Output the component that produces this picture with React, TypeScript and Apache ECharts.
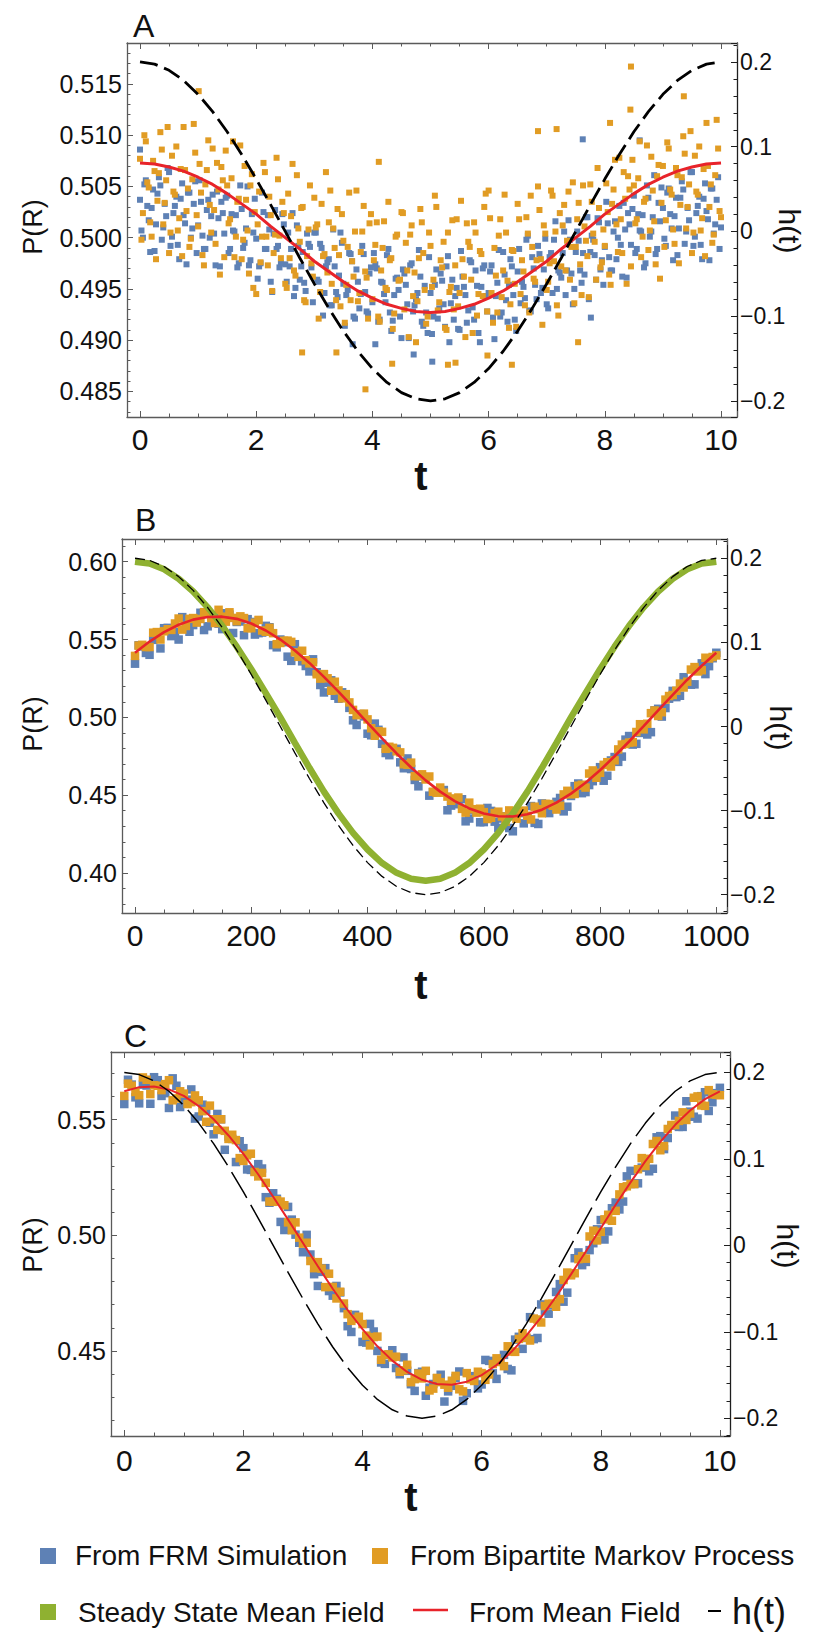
import React, { useEffect, useRef } from 'react';
import * as echarts from 'echarts';

// ---------------- data ----------------
const T10 = [0, 0.25, 0.5, 0.75, 1, 1.25, 1.5, 1.75, 2, 2.25, 2.5, 2.75, 3, 3.25, 3.5, 3.75, 4, 4.25, 4.5, 4.75, 5, 5.25, 5.5, 5.75, 6, 6.25, 6.5, 6.75, 7, 7.25, 7.5, 7.75, 8, 8.25, 8.5, 8.75, 9, 9.25, 9.5, 9.75, 10];
const T1000 = [0, 25, 50, 75, 100, 125, 150, 175, 200, 225, 250, 275, 300, 325, 350, 375, 400, 425, 450, 475, 500, 525, 550, 575, 600, 625, 650, 675, 700, 725, 750, 775, 800, 825, 850, 875, 900, 925, 950, 975, 1000];

const H_CURVE = [0.2, 0.1975, 0.1902, 0.1782, 0.1618, 0.1414, 0.1176, 0.0908, 0.0618, 0.0313, 0, -0.0313, -0.0618, -0.0908, -0.1176, -0.1414, -0.1618, -0.1782, -0.1902, -0.1975, -0.2, -0.1975, -0.1902, -0.1782, -0.1618, -0.1414, -0.1176, -0.0908, -0.0618, -0.0313, 0, 0.0313, 0.0618, 0.0908, 0.1176, 0.1414, 0.1618, 0.1782, 0.1902, 0.1975, 0.2];

// Panel A
const A_MEAN_FIELD = [0.5073, 0.5072, 0.5069, 0.5065, 0.5059, 0.5052, 0.5043, 0.5033, 0.5023, 0.5011, 0.5000, 0.4989, 0.4977, 0.4967, 0.4957, 0.4948, 0.4941, 0.4935, 0.4931, 0.4928, 0.4927, 0.4928, 0.4931, 0.4935, 0.4941, 0.4948, 0.4957, 0.4967, 0.4977, 0.4989, 0.5000, 0.5011, 0.5023, 0.5033, 0.5043, 0.5052, 0.5059, 0.5065, 0.5069, 0.5072, 0.5073];
const A_STEP = 0.05;
const A_FRM = [
  0.5037, 0.5000, 0.5056, 0.5017, 0.5029, 0.4987, 0.5043, 0.5051, 0.5010, 0.5021,
  0.5064, 0.5001, 0.5031, 0.4993, 0.5038, 0.5022, 0.4974, 0.5044, 0.5009, 0.5055,
  0.5012, 0.5035, 0.4989, 0.5027, 0.5000, 0.5042, 0.4973, 0.5019, 0.5035, 0.5004,
  0.5041, 0.4989, 0.5007, 0.5022, 0.4975, 0.5028, 0.4995, 0.5050, 0.4978, 0.5005,
  0.4999, 0.4972, 0.5044, 0.4989, 0.5022, 0.4957, 0.5004, 0.4989, 0.4971, 0.5023,
  0.4974, 0.5005, 0.4989, 0.4943, 0.5012, 0.4959, 0.4986, 0.4948, 0.4994, 0.4971,
  0.5005, 0.4959, 0.4994, 0.4924, 0.4972, 0.4979, 0.4934, 0.4972, 0.4942, 0.5005,
  0.4955, 0.4944, 0.4985, 0.4977, 0.4921, 0.4957, 0.4945, 0.4984, 0.4928, 0.4965,
  0.4937, 0.4974, 0.4918, 0.4957, 0.4945, 0.4983, 0.4927, 0.4919, 0.4960, 0.4949,
  0.4902, 0.4965, 0.4935, 0.4973, 0.4928, 0.4940, 0.4988, 0.4918, 0.4953, 0.4907,
  0.4946, 0.4923, 0.4969, 0.4931, 0.4958, 0.4913, 0.4982, 0.4936, 0.4920, 0.4951,
  0.4910, 0.4962, 0.4944, 0.4929, 0.4976, 0.4920, 0.4953, 0.4898, 0.4970, 0.4943,
  0.4946, 0.4973, 0.4901, 0.4956, 0.4923, 0.4986, 0.4939, 0.4954, 0.4972, 0.4920,
  0.4967, 0.4936, 0.4952, 0.4998, 0.4929, 0.4981, 0.4954, 0.4992, 0.4946, 0.4969,
  0.4935, 0.4981, 0.4946, 0.5016, 0.4968, 0.4961, 0.5006, 0.4968, 0.4998, 0.4935,
  0.4986, 0.4997, 0.4956, 0.4964, 0.5020, 0.4986, 0.4998, 0.4959, 0.5015, 0.4978,
  0.4991, 0.5014, 0.4968, 0.5006, 0.4979, 0.5031, 0.4962, 0.5008, 0.5024, 0.4993,
  0.5041, 0.4989, 0.5007, 0.5022, 0.4975, 0.5039, 0.5006, 0.5061, 0.4989, 0.5016,
  0.5029, 0.4992, 0.5048, 0.5009, 0.5021, 0.4983, 0.5039, 0.5047, 0.5006, 0.5017,
  0.5064, 0.5001, 0.5031, 0.4993, 0.5038, 0.5026, 0.4978, 0.5048, 0.5013, 0.5059,
  0.5010,
];
const A_FRM_MID = [
  0.5007, 0.5052, 0.5031, 0.4986, 0.5047, 0.5013, 0.5059, 0.4998, 0.5033, 0.5068,
  0.4992, 0.5024, 0.5040, 0.4979, 0.5053, 0.5014, 0.5044, 0.5000, 0.5033, 0.4985,
  0.5056, 0.5002, 0.4989, 0.5037, 0.5021, 0.5004, 0.5045, 0.4972, 0.5024, 0.5039,
  0.4985, 0.5023, 0.5006, 0.4971, 0.5051, 0.4990, 0.5009, 0.4973, 0.5023, 0.5038,
  0.4960, 0.4975, 0.5025, 0.4989, 0.5008, 0.4947, 0.5027, 0.4992, 0.4975, 0.5013,
  0.4957, 0.4972, 0.5024, 0.4951, 0.4992, 0.4972, 0.4956, 0.5004, 0.4991, 0.4937,
  0.5005, 0.4957, 0.4990, 0.4946, 0.4976, 0.4934, 0.5008, 0.4947, 0.4963, 0.4995,
  0.4914, 0.4949, 0.4984, 0.4923, 0.4969, 0.4931, 0.4992, 0.4947, 0.4926, 0.4971,
  0.4985, 0.4970, 0.4920, 0.4956, 0.4937, 0.4989, 0.4909, 0.4944, 0.4961, 0.4923,
  0.4969, 0.4954, 0.4902, 0.4975, 0.4934, 0.4946, 0.4962, 0.4914, 0.4927, 0.4981,
  0.4906, 0.4954, 0.4921, 0.4965, 0.4935, 0.4972, 0.4898, 0.4959, 0.4943, 0.4911,
  0.4987, 0.4952, 0.4917, 0.4978, 0.4932, 0.4968, 0.4907, 0.4952, 0.4973, 0.4928,
  0.4967, 0.4922, 0.4943, 0.4988, 0.4927, 0.4964, 0.4918, 0.4979, 0.4944, 0.4909,
  0.4989, 0.4957, 0.4941, 0.5002, 0.4928, 0.4970, 0.4940, 0.4984, 0.4951, 0.4999,
  0.4931, 0.4985, 0.4998, 0.4950, 0.4966, 0.4985, 0.4944, 0.5017, 0.4965, 0.4950,
  0.5006, 0.4968, 0.4985, 0.5020, 0.4940, 0.5002, 0.4983, 0.5019, 0.4969, 0.4954,
  0.5035, 0.4981, 0.4968, 0.5016, 0.5000, 0.4993, 0.5034, 0.4961, 0.5013, 0.5028,
  0.4985, 0.5023, 0.5006, 0.4971, 0.5051, 0.5001, 0.5020, 0.4984, 0.5034, 0.5049,
  0.4999, 0.5044, 0.5023, 0.4978, 0.5039, 0.5009, 0.5055, 0.4994, 0.5029, 0.5064,
  0.4992, 0.5024, 0.5040, 0.4979, 0.5053, 0.5018, 0.5048, 0.5004, 0.5037, 0.4989,
];
const A_BMP = [
  0.5077, 0.5024, 0.5094, 0.5049, 0.5001, 0.5065, 0.5036, 0.5103, 0.5013, 0.5056,
  0.4985, 0.5080, 0.5042, 0.5007, 0.5067, 0.5108, 0.5026, 0.4991, 0.5057, 0.5083,
  0.5011, 0.5044, 0.4973, 0.5066, 0.5032, 0.5087, 0.4994, 0.5047, 0.5069, 0.4981,
  0.5051, 0.5018, 0.5094, 0.5001, 0.5038, 0.4979, 0.5070, 0.5007, 0.5051, 0.4951,
  0.4945, 0.5045, 0.5001, 0.5064, 0.4973, 0.5022, 0.4985, 0.5078, 0.5002, 0.5035,
  0.4955, 0.5043, 0.5021, 0.4968, 0.5061, 0.4996, 0.5030, 0.4937, 0.5008, 0.4975,
  0.5039, 0.5013, 0.4947, 0.4982, 0.5064, 0.5015, 0.4955, 0.4990, 0.5028, 0.4933,
  0.4997, 0.4954, 0.5044, 0.4977, 0.5006, 0.4938, 0.4986, 0.5031, 0.4961, 0.5014,
  0.4940, 0.4993, 0.4923, 0.4968, 0.5016, 0.4949, 0.4978, 0.4911, 0.5001, 0.4958,
  0.5025, 0.4930, 0.4968, 0.5003, 0.4943, 0.4898, 0.4980, 0.5015, 0.4949, 0.4923,
  0.4992, 0.4959, 0.5030, 0.4937, 0.4971, 0.4912, 0.5005, 0.4952, 0.4930, 0.5018,
  0.4946, 0.4979, 0.4903, 0.4996, 0.4959, 0.5015, 0.4924, 0.4987, 0.4943, 0.5043,
  0.5046, 0.4946, 0.4990, 0.4927, 0.5018, 0.4968, 0.5005, 0.4912, 0.4988, 0.4955,
  0.5033, 0.4945, 0.4967, 0.5020, 0.4927, 0.4991, 0.4957, 0.5050, 0.4979, 0.5012,
  0.4949, 0.4975, 0.5041, 0.5006, 0.4924, 0.4972, 0.5032, 0.4997, 0.4959, 0.5054,
  0.4991, 0.5034, 0.4944, 0.5011, 0.4982, 0.5052, 0.5004, 0.4959, 0.5029, 0.4976,
  0.4992, 0.5025, 0.4954, 0.5047, 0.5013, 0.5078, 0.4985, 0.5038, 0.5060, 0.4972,
  0.5051, 0.5018, 0.5094, 0.5001, 0.5038, 0.4988, 0.5079, 0.5016, 0.5060, 0.4960,
  0.5070, 0.5017, 0.5087, 0.5042, 0.4994, 0.5061, 0.5032, 0.5099, 0.5009, 0.5052,
  0.4985, 0.5080, 0.5042, 0.5007, 0.5067, 0.5112, 0.5030, 0.4995, 0.5061, 0.5087,
  0.5020,
];
const A_BMP_MID = [
  0.4998, 0.5100, 0.5054, 0.5015, 0.5075, 0.4979, 0.5063, 0.5086, 0.5034, 0.5108,
  0.5005, 0.5045, 0.5089, 0.5019, 0.4982, 0.5066, 0.5048, 0.4999, 0.5111, 0.5022,
  0.5072, 0.4983, 0.5052, 0.5095, 0.5005, 0.5027, 0.5073, 0.4964, 0.5056, 0.5085,
  0.5014, 0.5058, 0.4981, 0.5035, 0.5090, 0.4998, 0.5037, 0.4965, 0.5062, 0.5025,
  0.5013, 0.4976, 0.5073, 0.5001, 0.5040, 0.4948, 0.5003, 0.5057, 0.4980, 0.5024,
  0.4951, 0.4980, 0.5072, 0.4963, 0.5009, 0.5029, 0.4939, 0.4982, 0.5051, 0.4962,
  0.5010, 0.4921, 0.5033, 0.4984, 0.4966, 0.5046, 0.5009, 0.4939, 0.4983, 0.5023,
  0.4917, 0.4991, 0.4939, 0.4962, 0.5046, 0.4946, 0.5006, 0.4967, 0.4921, 0.5023,
  0.4978, 0.5015, 0.4918, 0.4990, 0.4951, 0.5035, 0.4980, 0.4926, 0.5003, 0.4959,
  0.5024, 0.4995, 0.4903, 0.5012, 0.4966, 0.4938, 0.5028, 0.4985, 0.4916, 0.5005,
  0.4952, 0.5041, 0.4929, 0.4978, 0.4996, 0.4910, 0.4947, 0.5017, 0.4973, 0.4933,
  0.5036, 0.4962, 0.5014, 0.4991, 0.4907, 0.5005, 0.4945, 0.4984, 0.5030, 0.4928,
  0.5019, 0.4917, 0.4963, 0.5002, 0.4942, 0.5042, 0.4958, 0.4935, 0.4987, 0.4913,
  0.5018, 0.4978, 0.4934, 0.5004, 0.5041, 0.4960, 0.4978, 0.5027, 0.4915, 0.5004,
  0.4957, 0.5046, 0.4977, 0.4934, 0.5024, 0.5012, 0.4968, 0.5045, 0.4991, 0.4936,
  0.5018, 0.4974, 0.5051, 0.4997, 0.4942, 0.5035, 0.4996, 0.5068, 0.4971, 0.5008,
  0.5053, 0.4964, 0.5033, 0.5076, 0.4986, 0.5018, 0.5064, 0.4955, 0.5047, 0.5076,
  0.5014, 0.5058, 0.4981, 0.5035, 0.5090, 0.5007, 0.5046, 0.4974, 0.5071, 0.5034,
  0.4991, 0.5093, 0.5047, 0.5008, 0.5068, 0.4975, 0.5059, 0.5082, 0.5030, 0.5104,
  0.5005, 0.5045, 0.5089, 0.5019, 0.4982, 0.5070, 0.5052, 0.5003, 0.5115, 0.5026,
];
const A_FRM_EXTRA = [[0.0, 0.5086], [7.62, 0.5096], [8.6, 0.5095], [4.71, 0.4886], [5.03, 0.4879], [3.66, 0.4896], [4.05, 0.4896], [7.76, 0.4922]];
const A_BMP_EXTRA = [[8.45, 0.5167], [1.01, 0.5143], [9.36, 0.5138], [8.44, 0.5125], [3.88, 0.4852], [2.79, 0.4888], [3.38, 0.4888], [4.34, 0.4877], [5.3, 0.4876], [5.43, 0.4878], [6.4, 0.4876], [5.98, 0.4885], [7.54, 0.4898], [8.09, 0.5112], [6.85, 0.5104], [7.17, 0.5106], [4.11, 0.5074]];

// Panel B
const B_MEAN_FIELD = [0.5415, 0.5487, 0.5548, 0.5595, 0.5628, 0.5645, 0.5647, 0.5633, 0.5603, 0.5558, 0.5500, 0.5430, 0.5350, 0.5260, 0.5165, 0.5066, 0.4965, 0.4865, 0.4768, 0.4678, 0.4595, 0.4523, 0.4462, 0.4415, 0.4382, 0.4365, 0.4363, 0.4377, 0.4407, 0.4452, 0.4510, 0.4580, 0.4660, 0.4750, 0.4845, 0.4944, 0.5045, 0.5145, 0.5242, 0.5332, 0.5415];
const B_STEADY = [0.6000, 0.5988, 0.5951, 0.5891, 0.5809, 0.5707, 0.5588, 0.5454, 0.5309, 0.5156, 0.5000, 0.4836, 0.4676, 0.4523, 0.4383, 0.4258, 0.4151, 0.4064, 0.4001, 0.3963, 0.3950, 0.3963, 0.4001, 0.4064, 0.4151, 0.4258, 0.4383, 0.4523, 0.4676, 0.4836, 0.5000, 0.5156, 0.5309, 0.5454, 0.5588, 0.5707, 0.5809, 0.5891, 0.5951, 0.5988, 0.6000];
const B_STEP = 12.5;
const B_FRM = [
  0.5345, 0.5456, 0.5402, 0.5508, 0.5573, 0.5522, 0.5500, 0.5627, 0.5593, 0.5672,
  0.5585, 0.5641, 0.5567, 0.5660, 0.5613, 0.5528, 0.5613, 0.5541, 0.5588, 0.5464,
  0.5500, 0.5390, 0.5470, 0.5360, 0.5295, 0.5290, 0.5160, 0.5238, 0.5120, 0.5131,
  0.4981, 0.5021, 0.4895, 0.4960, 0.4830, 0.4757, 0.4798, 0.4673, 0.4668, 0.4557,
  0.4615, 0.4519, 0.4533, 0.4403, 0.4442, 0.4474, 0.4350, 0.4394, 0.4327, 0.4399,
  0.4290, 0.4364, 0.4268, 0.4385, 0.4352, 0.4322, 0.4447, 0.4385, 0.4457, 0.4396,
  0.4495, 0.4575, 0.4520, 0.4590, 0.4680, 0.4625, 0.4745, 0.4748, 0.4880, 0.4830,
  0.4934, 0.4905, 0.5055, 0.5060, 0.5170, 0.5139, 0.5222, 0.5212, 0.5347, 0.5329,
  0.5415,
];
const B_FRM_MID = [
  0.5463, 0.5414, 0.5498, 0.5443, 0.5575, 0.5549, 0.5644, 0.5550, 0.5613, 0.5561,
  0.5651, 0.5602, 0.5669, 0.5542, 0.5616, 0.5631, 0.5532, 0.5545, 0.5579, 0.5450,
  0.5483, 0.5363, 0.5420, 0.5330, 0.5373, 0.5208, 0.5222, 0.5139, 0.5161, 0.5061,
  0.4951, 0.5006, 0.4885, 0.4920, 0.4771, 0.4788, 0.4711, 0.4736, 0.4598, 0.4621,
  0.4497, 0.4521, 0.4533, 0.4433, 0.4461, 0.4332, 0.4407, 0.4326, 0.4418, 0.4330,
  0.4350, 0.4289, 0.4387, 0.4319, 0.4430, 0.4315, 0.4409, 0.4411, 0.4482, 0.4426,
  0.4558, 0.4513, 0.4565, 0.4645, 0.4593, 0.4723, 0.4714, 0.4857, 0.4825, 0.4900,
  0.4890, 0.5045, 0.5005, 0.5120, 0.5130, 0.5258, 0.5210, 0.5320, 0.5278, 0.5380,
];
const B_BMP = [
  0.5395, 0.5466, 0.5452, 0.5548, 0.5553, 0.5562, 0.5635, 0.5587, 0.5638, 0.5632,
  0.5670, 0.5606, 0.5647, 0.5675, 0.5618, 0.5638, 0.5573, 0.5626, 0.5550, 0.5541,
  0.5478, 0.5493, 0.5418, 0.5428, 0.5347, 0.5277, 0.5278, 0.5171, 0.5173, 0.5149,
  0.5048, 0.5019, 0.4987, 0.4882, 0.4907, 0.4811, 0.4782, 0.4699, 0.4709, 0.4623,
  0.4601, 0.4522, 0.4549, 0.4491, 0.4479, 0.4412, 0.4452, 0.4388, 0.4391, 0.4355,
  0.4394, 0.4330, 0.4364, 0.4391, 0.4368, 0.4426, 0.4384, 0.4443, 0.4408, 0.4505,
  0.4506, 0.4561, 0.4549, 0.4659, 0.4644, 0.4712, 0.4724, 0.4825, 0.4838, 0.4906,
  0.4923, 0.5027, 0.5009, 0.5114, 0.5144, 0.5217, 0.5229, 0.5323, 0.5303, 0.5378,
  0.5398,
];
const B_BMP_MID = [
  0.5461, 0.5452, 0.5544, 0.5500, 0.5566, 0.5603, 0.5564, 0.5633, 0.5609, 0.5676,
  0.5638, 0.5691, 0.5615, 0.5639, 0.5649, 0.5573, 0.5608, 0.5558, 0.5575, 0.5470,
  0.5492, 0.5485, 0.5389, 0.5367, 0.5354, 0.5249, 0.5251, 0.5229, 0.5122, 0.5096,
  0.5014, 0.5024, 0.4930, 0.4911, 0.4798, 0.4804, 0.4775, 0.4695, 0.4622, 0.4634,
  0.4620, 0.4516, 0.4516, 0.4464, 0.4485, 0.4388, 0.4410, 0.4413, 0.4347, 0.4385,
  0.4363, 0.4402, 0.4349, 0.4401, 0.4344, 0.4410, 0.4444, 0.4432, 0.4432, 0.4528,
  0.4508, 0.4567, 0.4639, 0.4612, 0.4695, 0.4684, 0.4794, 0.4829, 0.4840, 0.4956,
  0.4959, 0.5044, 0.5033, 0.5137, 0.5171, 0.5192, 0.5307, 0.5295, 0.5383, 0.5388,
];

// Panel C
const C_MEAN_FIELD = [0.5623, 0.5641, 0.5644, 0.5631, 0.5603, 0.5559, 0.5502, 0.5432, 0.5352, 0.5263, 0.5167, 0.5068, 0.4967, 0.4866, 0.4769, 0.4677, 0.4594, 0.4520, 0.4458, 0.4409, 0.4375, 0.4357, 0.4354, 0.4367, 0.4395, 0.4439, 0.4496, 0.4566, 0.4646, 0.4735, 0.4831, 0.4930, 0.5031, 0.5132, 0.5229, 0.5321, 0.5404, 0.5478, 0.5540, 0.5589, 0.5623];
const C_STEP = 0.125;
const C_FRM = [
  0.5568, 0.5652, 0.5571, 0.5648, 0.5684, 0.5603, 0.5551, 0.5647, 0.5583, 0.5631,
  0.5514, 0.5541, 0.5437, 0.5502, 0.5427, 0.5317, 0.5377, 0.5283, 0.5308, 0.5165,
  0.5182, 0.5058, 0.5123, 0.5003, 0.4927, 0.4917, 0.4781, 0.4858, 0.4739, 0.4753,
  0.4607, 0.4656, 0.4539, 0.4617, 0.4500, 0.4444, 0.4503, 0.4399, 0.4414, 0.4327,
  0.4410, 0.4341, 0.4382, 0.4281, 0.4349, 0.4411, 0.4317, 0.4391, 0.4355, 0.4457,
  0.4379, 0.4483, 0.4416, 0.4561, 0.4556, 0.4551, 0.4701, 0.4661, 0.4755, 0.4713,
  0.4831, 0.4926, 0.4885, 0.4966, 0.5066, 0.5017, 0.5142, 0.5146, 0.5279, 0.5225,
  0.5326, 0.5288, 0.5429, 0.5421, 0.5518, 0.5469, 0.5535, 0.5505, 0.5619, 0.5576,
  0.5638,
];
const C_FRM_MID = [
  0.5673, 0.5597, 0.5652, 0.5569, 0.5671, 0.5615, 0.5679, 0.5555, 0.5587, 0.5505,
  0.5565, 0.5487, 0.5525, 0.5370, 0.5417, 0.5407, 0.5285, 0.5276, 0.5289, 0.5141,
  0.5158, 0.5023, 0.5068, 0.4968, 0.5002, 0.4832, 0.4842, 0.4759, 0.4781, 0.4685,
  0.4582, 0.4645, 0.4536, 0.4584, 0.4450, 0.4484, 0.4426, 0.4472, 0.4356, 0.4404,
  0.4306, 0.4357, 0.4397, 0.4325, 0.4383, 0.4284, 0.4389, 0.4338, 0.4461, 0.4403,
  0.4454, 0.4422, 0.4549, 0.4509, 0.4646, 0.4556, 0.4674, 0.4698, 0.4789, 0.4752,
  0.4901, 0.4871, 0.4936, 0.5026, 0.4982, 0.5117, 0.5112, 0.5255, 0.5222, 0.5293,
  0.5277, 0.5424, 0.5373, 0.5475, 0.5469, 0.5580, 0.5513, 0.5602, 0.5538, 0.5615,
];
const C_BMP = [
  0.5603, 0.5647, 0.5606, 0.5673, 0.5649, 0.5628, 0.5671, 0.5592, 0.5613, 0.5576,
  0.5584, 0.5491, 0.5502, 0.5502, 0.5417, 0.5412, 0.5322, 0.5353, 0.5255, 0.5227,
  0.5145, 0.5146, 0.5056, 0.5056, 0.4964, 0.4889, 0.4884, 0.4776, 0.4777, 0.4756,
  0.4659, 0.4639, 0.4616, 0.4524, 0.4562, 0.4483, 0.4472, 0.4410, 0.4440, 0.4378,
  0.4381, 0.4329, 0.4383, 0.4354, 0.4371, 0.4334, 0.4404, 0.4370, 0.4404, 0.4398,
  0.4468, 0.4434, 0.4497, 0.4552, 0.4557, 0.4640, 0.4623, 0.4704, 0.4691, 0.4807,
  0.4827, 0.4897, 0.4899, 0.5020, 0.5015, 0.5089, 0.5106, 0.5208, 0.5222, 0.5286,
  0.5300, 0.5395, 0.5368, 0.5460, 0.5477, 0.5532, 0.5527, 0.5601, 0.5560, 0.5610,
  0.5606,
];
const C_BMP_MID = [
  0.5656, 0.5620, 0.5683, 0.5611, 0.5647, 0.5654, 0.5584, 0.5623, 0.5568, 0.5605,
  0.5537, 0.5561, 0.5456, 0.5452, 0.5435, 0.5334, 0.5346, 0.5274, 0.5270, 0.5146,
  0.5152, 0.5130, 0.5022, 0.4990, 0.4968, 0.4858, 0.4856, 0.4834, 0.4727, 0.4705,
  0.4630, 0.4648, 0.4566, 0.4560, 0.4462, 0.4485, 0.4475, 0.4416, 0.4365, 0.4402,
  0.4414, 0.4337, 0.4365, 0.4341, 0.4392, 0.4325, 0.4377, 0.4410, 0.4375, 0.4443,
  0.4452, 0.4520, 0.4496, 0.4576, 0.4545, 0.4636, 0.4694, 0.4704, 0.4724, 0.4839,
  0.4836, 0.4910, 0.4995, 0.4978, 0.5069, 0.5063, 0.5177, 0.5212, 0.5222, 0.5334,
  0.5331, 0.5408, 0.5386, 0.5477, 0.5495, 0.5499, 0.5595, 0.5562, 0.5628, 0.5608,
];

const LEGEND_NAMES = ['From FRM Simulation', 'From Bipartite Markov Process', 'Steady State Mean Field', 'From Mean Field', 'h(t)'];

// ---------------- styles ----------------
const BLUE = '#5e81b5';
const ORANGE = '#e19c24';
const GREEN = '#8fb131';
const RED = '#e8232a';
const FRAME = '#5a5a5a';
const FRAME_R = '#1e1e1e';
const INK = '#111111';
const FONT = '"Liberation Sans", Arial, Helvetica, sans-serif';

const fmtMultiple = (step: number, digits: number) => (v: number) => {
  const k = v / step;
  if (Math.abs(k - Math.round(k)) > 1e-6) return '';
  const r = Math.round(k) * step;
  if (Math.abs(r) < 1e-12) return '0';
  return r.toFixed(digits).replace('-', '\u2212');
};

const tick = (color: string) => ({ show: true, inside: true, length: 6, lineStyle: { color, width: 1 } });
const minor = (n: number, color: string) => ({ show: true, splitNumber: n, length: 3.5, lineStyle: { color, width: 1 } });

function xPair(gi: number, min: number, max: number, step: number, labelMargin: number) {
  const base = {
    type: 'value' as const,
    gridIndex: gi,
    min,
    max,
    splitNumber: 5,
    splitLine: { show: false },
    minorSplitLine: { show: false },
    axisLine: { show: true, onZero: false, lineStyle: { color: FRAME, width: 1.3 } },
    axisTick: tick(FRAME),
    minorTick: minor(4, FRAME),
  };
  return [
    {
      ...base,
      position: 'bottom',
      axisLabel: { show: true, margin: labelMargin, fontSize: 30, fontFamily: FONT, color: INK, formatter: fmtMultiple(step, 0) },
    },
    { ...base, position: 'top', axisLabel: { show: false } },
  ];
}

function yPair(gi: number, lmin: number, lmax: number, lsplit: number, lstep: number, ldigits: number, rmin: number, rmax: number) {
  return [
    {
      type: 'value',
      gridIndex: gi,
      position: 'left',
      min: lmin,
      max: lmax,
      splitNumber: lsplit,
      splitLine: { show: false },
      minorSplitLine: { show: false },
      axisLine: { show: true, onZero: false, lineStyle: { color: FRAME, width: 1.3 } },
      axisTick: tick(FRAME),
      minorTick: minor(5, FRAME),
      axisLabel: { show: true, margin: 5, fontSize: 25, fontFamily: FONT, color: INK, formatter: fmtMultiple(lstep, ldigits) },
    },
    {
      type: 'value',
      gridIndex: gi,
      position: 'right',
      min: rmin,
      max: rmax,
      splitNumber: 5,
      splitLine: { show: false },
      minorSplitLine: { show: false },
      axisLine: { show: true, onZero: false, lineStyle: { color: FRAME_R, width: 1.3 } },
      axisTick: tick(FRAME_R),
      minorTick: minor(5, FRAME_R),
      axisLabel: { show: true, margin: 3, fontSize: 23, fontFamily: FONT, color: INK, formatter: fmtMultiple(0.1, 1) },
    },
  ];
}

const scatter = (name: string, xi: number, yi: number, data: number[][], color: string, size: number) => ({
  type: 'scatter',
  name,
  xAxisIndex: xi,
  yAxisIndex: yi,
  symbol: 'rect',
  symbolSize: size,
  itemStyle: { color, opacity: 1 },
  silent: true,
  data,
});

const line = (name: string, xi: number, yi: number, ts: number[], vs: number[], style: any) => ({
  type: 'line',
  name,
  xAxisIndex: xi,
  yAxisIndex: yi,
  showSymbol: false,
  symbol: 'none',
  silent: true,
  lineStyle: style,
  data: ts.map((t, i) => [t, vs[i]]),
});

const txt = (text: string, x: number, y: number, size: number, o: any = {}) => ({
  type: 'text',
  x,
  y,
  rotation: o.rotation || 0,
  silent: true,
  style: {
    text,
    fontSize: size,
    fontFamily: FONT,
    fontWeight: o.weight || 'normal',
    fill: INK,
    textAlign: o.align || 'center',
    align: o.align || 'center',
    textVerticalAlign: 'middle',
    verticalAlign: 'middle',
  },
});

const pts = (vals: number[], step: number, offset = 0) => vals.map((v, i) => [offset + i * step, v]);

function buildOption() {
  const grid = [
    { left: 127, top: 43, width: 610, height: 374, outerBoundsMode: 'none' },
    { left: 122, top: 539, width: 605, height: 374, outerBoundsMode: 'none' },
    { left: 111, top: 1052, width: 619, height: 384, outerBoundsMode: 'none' },
  ];
  const xAxis = [
    ...xPair(0, -0.224, 10.275, 2, 7),
    ...xPair(1, -22.4, 1018.4, 200, 7),
    ...xPair(2, -0.223, 10.17, 2, 9),
  ];
  const yAxis = [
    ...yPair(0, 0.4825, 0.519, 7, 0.005, 3, -0.219, 0.2224),
    ...yPair(1, 0.3743, 0.6146, 5, 0.05, 2, -0.2217, 0.2229),
    ...yPair(2, 0.4132, 0.5793, 3, 0.05, 2, -0.2205, 0.2236),
  ];

  const series = [
    // A
    scatter(LEGEND_NAMES[0], 0, 0, [...pts(A_FRM, A_STEP), ...pts(A_FRM_MID, A_STEP, A_STEP / 2), ...A_FRM_EXTRA], BLUE, 6),
    scatter(LEGEND_NAMES[1], 0, 0, [...pts(A_BMP, A_STEP), ...pts(A_BMP_MID, A_STEP, A_STEP / 2), ...A_BMP_EXTRA], ORANGE, 6),
    line(LEGEND_NAMES[3], 0, 0, T10, A_MEAN_FIELD, { color: RED, width: 3 }),
    line(LEGEND_NAMES[4], 0, 1, T10, H_CURVE, { color: '#000', width: 2.8, type: [18, 7] }),
    // B
    scatter(LEGEND_NAMES[0], 2, 2, [...pts(B_FRM, B_STEP), ...pts(B_FRM_MID, B_STEP, B_STEP / 2)], BLUE, 8.5),
    scatter(LEGEND_NAMES[1], 2, 2, [...pts(B_BMP, B_STEP), ...pts(B_BMP_MID, B_STEP, B_STEP / 2)], ORANGE, 8.5),
    line(LEGEND_NAMES[2], 2, 2, T1000, B_STEADY, { color: GREEN, width: 6.5 }),
    line(LEGEND_NAMES[3], 2, 2, T1000, B_MEAN_FIELD, { color: RED, width: 2.6 }),
    line(LEGEND_NAMES[4], 2, 3, T1000, H_CURVE, { color: '#000', width: 1.3, type: [10, 5] }),
    // C
    scatter(LEGEND_NAMES[0], 4, 4, [...pts(C_FRM, C_STEP), ...pts(C_FRM_MID, C_STEP, C_STEP / 2)], BLUE, 8.5),
    scatter(LEGEND_NAMES[1], 4, 4, [...pts(C_BMP, C_STEP), ...pts(C_BMP_MID, C_STEP, C_STEP / 2)], ORANGE, 8.5),
    line(LEGEND_NAMES[3], 4, 4, T10, C_MEAN_FIELD, { color: RED, width: 2 }),
    line(LEGEND_NAMES[4], 4, 5, T10, H_CURVE, { color: '#000', width: 1.5, type: [30, 8] }),
  ];

  const graphic = [
    txt('A', 133, 26, 32, { align: 'left' }),
    txt('B', 135, 520, 32, { align: 'left' }),
    txt('C', 124, 1036, 32, { align: 'left' }),
    txt('t', 421, 476, 40, { weight: 'bold' }),
    txt('t', 421, 985, 40, { weight: 'bold' }),
    txt('t', 411, 1497, 40, { weight: 'bold' }),
    txt('P(R)', 33, 227, 27, { rotation: Math.PI / 2 }),
    txt('P(R)', 33, 724, 27, { rotation: Math.PI / 2 }),
    txt('P(R)', 33, 1245, 27, { rotation: Math.PI / 2 }),
    txt('h(t)', 789, 231, 30, { rotation: -Math.PI / 2 }),
    txt('h(t)', 780, 728, 30, { rotation: -Math.PI / 2 }),
    txt('h(t)', 787, 1246, 30, { rotation: -Math.PI / 2 }),
    // legend row 1
    { type: 'rect', silent: true, shape: { x: 40, y: 1548, width: 16, height: 16 }, style: { fill: BLUE } },
    txt(LEGEND_NAMES[0], 75, 1555, 28, { align: 'left' }),
    { type: 'rect', silent: true, shape: { x: 372, y: 1548, width: 16, height: 16 }, style: { fill: ORANGE } },
    txt(LEGEND_NAMES[1], 410, 1555, 28, { align: 'left' }),
    // legend row 2
    { type: 'rect', silent: true, shape: { x: 40, y: 1604, width: 16, height: 16 }, style: { fill: GREEN } },
    txt(LEGEND_NAMES[2], 78, 1612, 28, { align: 'left' }),
    { type: 'line', silent: true, shape: { x1: 413, y1: 1610, x2: 448, y2: 1610 }, style: { stroke: RED, lineWidth: 2.5 } },
    txt(LEGEND_NAMES[3], 469, 1612, 28, { align: 'left' }),
    { type: 'line', silent: true, shape: { x1: 708, y1: 1611, x2: 721, y2: 1611 }, style: { stroke: '#000', lineWidth: 2 } },
    txt(LEGEND_NAMES[4], 732, 1611, 36, { align: 'left' }),
  ];

  return {
    animation: false,
    backgroundColor: '#ffffff',
    grid,
    xAxis,
    yAxis,
    series,
    graphic,
  };
}

export default function App() {
  const ref = useRef<HTMLDivElement>(null);
  useEffect(() => {
    document.body.style.margin = '0';
    const el = ref.current;
    if (!el) return;
    const chart = echarts.init(el, undefined, { renderer: 'svg', width: 831, height: 1634 });
    chart.setOption(buildOption() as any);
    return () => {
      chart.dispose();
    };
  }, []);
  return <div ref={ref} style={{ width: 831, height: 1634, background: '#fff' }} />;
}
